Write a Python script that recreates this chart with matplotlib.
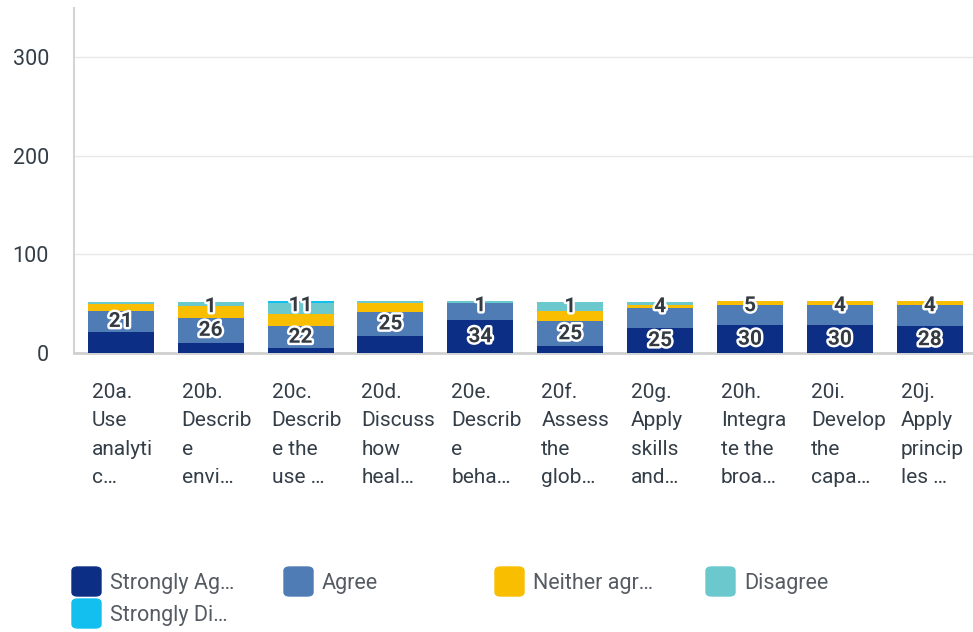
import matplotlib
matplotlib.use("Agg")
import matplotlib.pyplot as plt
import matplotlib.patheffects as pe
from matplotlib.patches import FancyBboxPatch
import numpy as np

plt.rcParams['font.family'] = ['Roboto', 'DejaVu Sans']

# chart data
questions = ["20a.\nUse\nanalyti\nc…", "20b.\nDescrib\ne\nenvi…", "20c.\nDescrib\ne the\nuse …",
             "20d.\nDiscuss\nhow\nheal…", "20e.\nDescrib\ne\nbeha…", "20f.\nAssess\nthe\nglob…",
             "20g.\nApply\nskills\nand…", "20h.\nIntegra\nte the\nbroa…", "20i.\nDevelop\nthe\ncapa…",
             "20j.\nApply\nprincip\nles …"]
series_names = ["Strongly Ag…", "Agree", "Neither agr…", "Disagree", "Strongly Di…"]
strongly_agree = [21, 10, 5, 17, 33, 7, 25, 28, 28, 27]
agree = [22, 26, 22, 25, 18, 25, 21, 21, 21, 22]
neither = [7, 12, 13, 9, 0, 11, 3, 4, 4, 4]
disagree = [2, 4, 11, 2, 2, 9, 3, 0, 0, 0]
strongly_disagree = [0, 0, 2, 0, 0, 0, 0, 0, 0, 0]
colors = ["#0D2E85", "#507CB6", "#F9BE00", "#6BC8CD", "#13BFEE"]

# shown labels: (text, segment index) ; upper labels sit near bar top
low_labels = [("21", 1), ("26", 1), ("22", 1), ("25", 1), ("34", 0),
              ("25", 1), ("25", 0), ("30", 0), ("30", 0), ("28", 0)]
top_labels = ["", "1", "11", "", "1", "1", "4", "5", "4", "4"]

fig = plt.figure(figsize=(9.73, 6.32), dpi=100)
ax = fig.add_axes([74 / 973, 1 - 353 / 632, 1 - 74 / 973, 345 / 632])

series = [strongly_agree, agree, neither, disagree, strongly_disagree]
x = np.arange(len(questions))
bottom = np.zeros(len(questions))
bounds = []
for vals, c in zip(series, colors):
    vals = np.array(vals, dtype=float)
    ax.bar(x + 0.02, vals, bottom=bottom, width=0.735, color=c, zorder=3)
    bounds.append((bottom.copy(), bottom + vals))
    bottom = bottom + vals
totals = bottom

stroke = [pe.withStroke(linewidth=3.5, foreground="white")]
for i in range(len(questions)):
    txt, seg = low_labels[i]
    b0, b1 = bounds[seg]
    ax.text(x[i] + 0.02, (b0[i] + b1[i]) / 2, txt, ha="center", va="center", fontsize=15,
            fontweight="bold", color="#333a42", path_effects=stroke, zorder=5)
    if top_labels[i]:
        ax.text(x[i] + 0.02, totals[i] - 5, top_labels[i], ha="center", va="center", fontsize=15,
                fontweight="bold", color="#333a42", path_effects=stroke, zorder=5)

ax.set_xlim(-0.5, len(questions) - 0.5)
ax.set_ylim(0, 350)
ax.set_yticks([0, 100, 200, 300])
ax.tick_params(axis="y", length=0, pad=18, labelsize=15.5, labelcolor="#333e48")
ax.set_xticks([])
ax.grid(axis="y", color="#e8e8e8", linewidth=1, zorder=0)
for s in ["top", "right"]:
    ax.spines[s].set_visible(False)
ax.spines["left"].set_color("#d4d4d4")
ax.spines["left"].set_linewidth(1.5)
ax.spines["bottom"].set_color("#d0d0d0")
ax.spines["bottom"].set_linewidth(2)

# category labels, left aligned under each bar
for i, q in enumerate(questions):
    ax.annotate(q, xy=(x[i] + 0.02 - 0.735 / 2, 0), xycoords="data", xytext=(4, -30),
                textcoords="offset pixels", ha="left", va="top", fontsize=15,
                color="#333e48", linespacing=1.62, annotation_clip=False)

# legend
col_x = [72, 284, 495, 706]
for i, (name, c) in enumerate(zip(series_names, colors)):
    px = col_x[i % 4]
    py = 567 + 32 * (i // 4)
    fig.patches.append(FancyBboxPatch((px / 973, 1 - (py + 29) / 632), 29 / 973, 29 / 632,
                                      boxstyle="round,pad=0,rounding_size=0.006",
                                      transform=fig.transFigure, color=c, figure=fig))
    fig.text((px + 38) / 973, 1 - (py + 16) / 632, name, ha="left", va="center",
             fontsize=15.5, color="#555b62")

fig.savefig("out.png", dpi=100)
